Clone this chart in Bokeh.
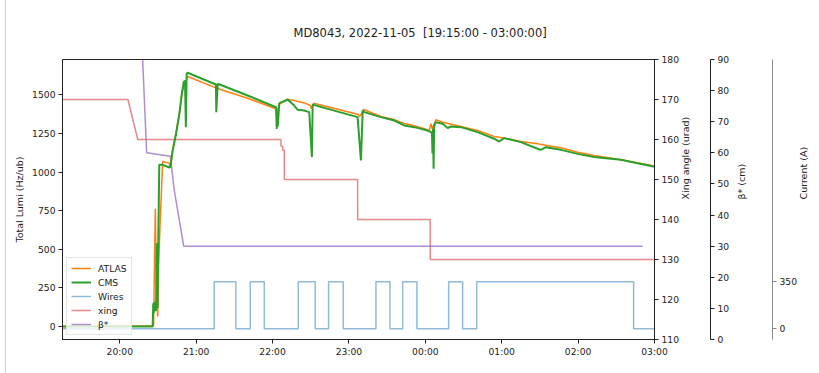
import math
import pandas as pd
from bokeh.plotting import figure
from bokeh.models import (Range1d, LinearAxis, FixedTicker, DatetimeTickFormatter,
                          Legend, LegendItem, Spacer)
from bokeh.layouts import row
from bokeh.embed import file_html
from bokeh.resources import INLINE

DAY = "2022-11-05"
T_START, T_END = "19:15:00", "03:00:00"

# ATLAS luminosity (Hz/ub)
atlas_time = ["19:15:00", "20:26:30", "20:27:54", "20:28:30", "20:29:48", "20:30:30", "20:31:48",
              "20:33:42", "20:38:54", "20:39:18", "20:41:36", "20:44:12", "20:46:48", "20:48:42",
              "20:50:12", "20:51:30", "20:53:18", "21:15:30", "21:40:24", "22:02:42", "22:03:30",
              "22:05:18", "22:11:54", "22:17:00", "22:24:54", "22:29:42", "22:30:30", "22:32:18",
              "23:06:48", "23:08:30", "23:11:30", "23:25:06", "23:35:36", "23:43:24", "23:51:18",
              "00:01:48", "00:03:00", "00:04:24", "00:05:30", "00:08:18", "00:13:36", "00:27:54",
              "00:41:00", "00:54:06", "01:01:54", "01:15:06", "01:28:12", "01:35:30", "01:46:30",
              "01:59:36", "02:12:36", "02:33:36", "03:00:00"]
atlas_lumi = [0, 5, 762, 300, 65, 400, 700,
              1068, 1058, 1030, 1150, 1255, 1380, 1500,
              1555, 1575, 1619, 1545, 1478, 1410, 1390,
              1440, 1470, 1463, 1448, 1431, 1410, 1446,
              1375, 1360, 1405, 1360, 1340, 1315, 1300,
              1275, 1265, 1313, 1280, 1339, 1323, 1295,
              1269, 1231, 1220, 1198, 1183, 1172, 1157,
              1129, 1108, 1080, 1040]

# CMS luminosity (Hz/ub)
cms_time = ["19:15:00", "20:25:48", "20:26:18", "20:26:48", "20:27:24", "20:28:24", "20:29:18",
            "20:29:42", "20:30:12", "20:31:00", "20:33:42", "20:38:54", "20:39:42", "20:41:36",
            "20:44:12", "20:46:48", "20:48:42", "20:50:12", "20:51:12", "20:51:54", "20:52:30",
            "20:53:18", "21:15:30", "21:15:48", "21:16:54", "21:40:24", "22:02:42", "22:03:18",
            "22:03:42", "22:04:06", "22:05:18", "22:11:54", "22:17:00", "22:19:42", "22:24:54",
            "22:28:48", "22:30:54", "22:31:30", "23:06:48", "23:09:24", "23:10:48", "23:12:00",
            "23:25:06", "23:35:36", "23:43:24", "23:51:18", "00:01:48", "00:04:24", "00:05:12",
            "00:05:36", "00:06:00", "00:06:30", "00:06:54", "00:08:18", "00:13:36", "00:17:30",
            "00:20:06", "00:27:54", "00:41:00", "00:54:06", "00:58:00", "01:01:54", "01:15:06",
            "01:28:12", "01:30:48", "01:34:42", "01:46:30", "01:59:36", "02:12:36", "02:33:36",
            "03:00:00"]
cms_lumi = [0, 0, 150, 90, 160, 100, 540,
            120, 530, 1047, 1047, 1030, 1032, 1140,
            1248, 1377, 1507, 1582, 1593, 1291, 1636,
            1643, 1567, 1388, 1572, 1496, 1420, 1280,
            1400, 1295, 1446, 1470, 1431, 1403, 1399,
            1388, 1097, 1437, 1356, 1075, 1399, 1388,
            1356, 1334, 1302, 1291, 1269, 1259, 1250,
            1120, 1280, 1021, 1300, 1323, 1313, 1285,
            1295, 1291, 1259, 1216, 1198, 1220, 1194,
            1151, 1144, 1161, 1144, 1118, 1097, 1080,
            1035]

# wire compensator current (A), value holds until the next switch
wire_time = ["19:15:00", "21:14:12", "21:31:12", "21:42:30", "21:53:30", "22:20:12", "22:33:30",
             "22:44:00", "22:55:30", "23:21:12", "23:32:12", "23:42:12", "23:53:24", "00:18:18",
             "00:29:18", "00:40:18", "02:43:36", "03:00:00"]
wire_current = [0, 350, 0, 350, 0, 350, 0,
                350, 0, 350, 0, 350, 0, 350,
                0, 350, 0, 0]

# crossing angle (urad)
xing_time = ["19:15:00", "20:06:24", "20:14:06", "22:06:36", "22:06:40", "22:07:54", "22:07:58",
             "22:09:12", "22:09:16", "23:06:48", "23:06:52", "00:03:48", "00:03:52", "03:00:00"]
xing_angle = [170, 170, 160, 160, 158.3, 158.3, 157.3,
              157.3, 150, 150, 140, 140, 130, 130]

# beta* (cm)
beta_time = ["19:15:00", "20:14:48", "20:21:06", "20:39:42", "20:42:48", "20:50:12", "02:50:36"]
beta_cm = [120, 120, 60, 58.9, 47.9, 30, 30]

lumi_ticks = [0, 250, 500, 750, 1000, 1250, 1500]
xing_ticks = [110, 120, 130, 140, 150, 160, 170, 180]
beta_ticks = [0, 10, 20, 30, 40, 50, 60, 70, 80, 90]
current_ticks = [0, 350]
hour_ticks = ["20:00:00", "21:00:00", "22:00:00", "23:00:00", "00:00:00",
              "01:00:00", "02:00:00", "03:00:00"]

TITLE = "MD8043, 2022-11-05\u00a0\u00a0[19:15:00 - 03:00:00]"


def to_dt(times):
    base = pd.Timestamp(DAY)
    out = []
    for s in times:
        day = base + pd.Timedelta(days=1) if int(s[:2]) < 12 else base
        out.append(day + pd.Timedelta(s))
    return out


def to_ms(times):
    return [t.value / 1e6 for t in to_dt(times)]


FONT = "DejaVu Sans"
INK = "#222222"

t0, t1 = to_dt([T_START, T_END])
p = figure(width=813, height=373, x_axis_type="datetime",
           x_range=Range1d(t0, t1), y_range=Range1d(-84, 1729),
           output_backend="svg", toolbar_location=None,
           min_border_left=56, min_border_right=165, min_border_top=59, min_border_bottom=34)
p.background_fill_color = "white"
p.border_fill_color = "white"
p.outline_line_color = INK
p.outline_line_width = 1
p.xgrid.visible = False
p.ygrid.visible = False

p.title.text = TITLE
p.title.align = "left"
p.title.text_font = FONT
p.title.text_font_size = "11.5px"
p.title.text_font_style = "normal"
p.title.text_color = INK
p.title.standoff = 39
p.title.offset = 231

p.extra_y_ranges = {"xing": Range1d(110, 180), "beta": Range1d(0, 90),
                    "cur": Range1d(-80, 2005)}


def style_axis(ax, color=INK):
    ax.axis_line_color = color
    ax.major_tick_line_color = color
    ax.major_tick_out = 4
    ax.major_tick_in = 0
    ax.minor_tick_line_color = None
    ax.major_label_text_font = FONT
    ax.major_label_text_font_size = "9.2px"
    ax.major_label_text_color = INK
    ax.axis_label_text_font = FONT
    ax.axis_label_text_font_size = "9.5px"
    ax.axis_label_text_font_style = "normal"
    ax.axis_label_text_color = INK
    ax.major_label_standoff = 3
    ax.axis_label_standoff = 4


def right_label_upwards(ax):
    if "axis_label_orientation" in ax.properties():
        ax.axis_label_orientation = math.pi / 2


yl = p.yaxis[0]
style_axis(yl)
yl.ticker = FixedTicker(ticks=lumi_ticks)
yl.axis_label = "Total Lumi (Hz/ub)"

xb = p.xaxis[0]
style_axis(xb)
xb.ticker = FixedTicker(ticks=to_ms(hour_ticks))
xb.formatter = DatetimeTickFormatter(hours="%H:%M", hourmin="%H:%M", minutes="%H:%M",
                                     days="%H:%M", minsec="%H:%M")
xb.major_label_standoff = 2

ax_xing = LinearAxis(y_range_name="xing", ticker=FixedTicker(ticks=xing_ticks),
                     axis_label="Xing angle (urad)")
style_axis(ax_xing)
ax_xing.axis_label_standoff = 3
right_label_upwards(ax_xing)


def gap_axis(width):
    # blank spacer axis: one hidden tick so that the tick length reserves room
    ax = LinearAxis(y_range_name="xing", ticker=FixedTicker(ticks=[145]))
    ax.axis_line_color = None
    ax.major_tick_line_alpha = 0
    ax.minor_tick_line_color = None
    ax.major_tick_out = width
    ax.major_tick_in = 0
    ax.major_label_standoff = 0
    ax.major_label_text_alpha = 0
    ax.major_label_text_font_size = "1px"
    ax.major_label_overrides = {145: " "}
    return ax


ax_beta = LinearAxis(y_range_name="beta", ticker=FixedTicker(ticks=beta_ticks),
                     axis_label="β* (cm)")
style_axis(ax_beta)
ax_beta.axis_label_standoff = 9
right_label_upwards(ax_beta)

ax_cur = LinearAxis(y_range_name="cur", ticker=FixedTicker(ticks=current_ticks),
                    axis_label="Current (A)")
style_axis(ax_cur, color="#8a8a8a")
ax_cur.axis_label_standoff = 3
right_label_upwards(ax_cur)

p.add_layout(ax_xing, "right")
p.add_layout(gap_axis(11), "right")
p.add_layout(ax_beta, "right")
p.add_layout(gap_axis(17), "right")
p.add_layout(ax_cur, "right")

# secondary traces first, luminosity on top
r_wire = p.step(to_dt(wire_time), wire_current, mode="after", y_range_name="cur",
                line_color="#1f77b4", line_alpha=0.5, line_width=1.5)
r_xing = p.line(to_dt(xing_time), xing_angle, y_range_name="xing",
                line_color="#d62728", line_alpha=0.55, line_width=1.5)
r_beta = p.line(to_dt(beta_time), beta_cm, y_range_name="beta",
                line_color="#9467bd", line_alpha=0.75, line_width=1.5)
r_atlas = p.line(to_dt(atlas_time), atlas_lumi, line_color="#ff7f0e", line_width=1.5)
r_cms = p.line(to_dt(cms_time), cms_lumi, line_color="#2ca02c", line_width=2)

legend = Legend(items=[LegendItem(label="ATLAS", renderers=[r_atlas]),
                       LegendItem(label="CMS", renderers=[r_cms]),
                       LegendItem(label="Wires", renderers=[r_wire]),
                       LegendItem(label="xing", renderers=[r_xing]),
                       LegendItem(label="β*", renderers=[r_beta])],
                location="bottom_left")
legend.margin = 4
legend.padding = 4
legend.spacing = 2
legend.glyph_width = 20
legend.glyph_height = 12
legend.label_height = 12
legend.label_standoff = 7
legend.label_text_font = FONT
legend.label_text_font_size = "9.2px"
legend.label_text_color = INK
legend.border_line_color = "#cccccc"
legend.background_fill_alpha = 0.8
p.add_layout(legend)

edge = Spacer(width=6, height=373, styles={"border-right": "1px solid #cfcfcf",
                                            "box-sizing": "border-box"})
page = row(edge, p)

open("out.html", "w").write(file_html(page, INLINE))
